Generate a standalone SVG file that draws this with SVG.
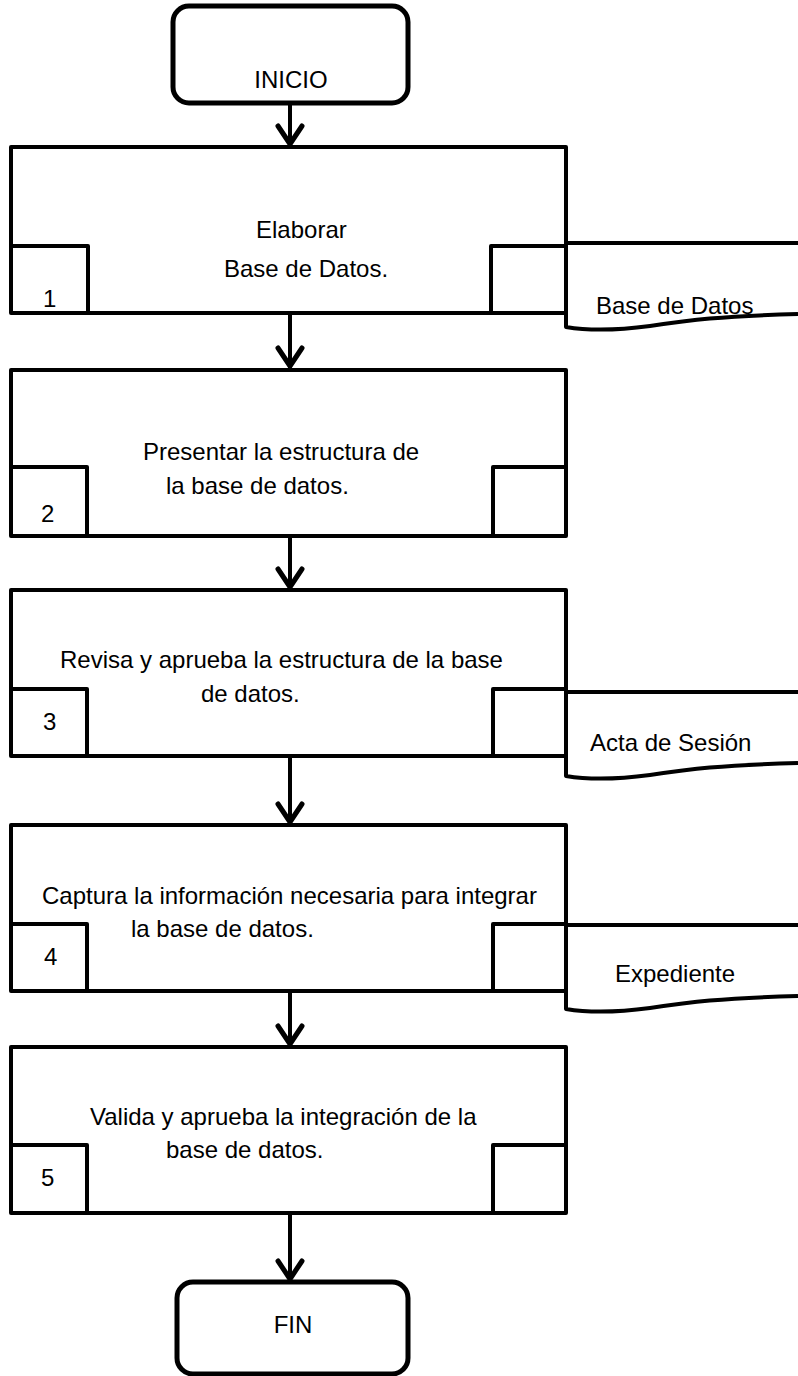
<svg xmlns="http://www.w3.org/2000/svg" width="798" height="1376" viewBox="0 0 798 1376">
<style>
.shape{fill:#fff;stroke:#000;stroke-width:4;stroke-linejoin:round}
.sub{fill:none;stroke:#000;stroke-width:4;stroke-linejoin:round}
.term{fill:#fff;stroke:#000;stroke-width:5}
.t{font-family:"Liberation Sans",Arial,sans-serif;font-size:24px;fill:#000}
.c{text-anchor:middle}
.line{fill:none;stroke:#000;stroke-width:4}
.head{fill:none;stroke:#000;stroke-width:5;stroke-linecap:round;stroke-linejoin:round}
</style>
<defs>
<path id="doc" d="M798,0 H566 V84 C590,88 620,87 650,83 C690,77 720,73 798,71" class="sub"/>
<path id="hd" d="M-12,-18 L0,0 L12,-18" class="head"/>
</defs>
<g id="connectors">
<line class="line" x1="290" y1="103" x2="290" y2="145"/><use href="#hd" x="290" y="144"/>
<line class="line" x1="290" y1="313" x2="290" y2="368"/><use href="#hd" x="290" y="366"/>
<line class="line" x1="290" y1="536" x2="290" y2="588"/><use href="#hd" x="290" y="587"/>
<line class="line" x1="290" y1="756" x2="290" y2="823"/><use href="#hd" x="290" y="822"/>
<line class="line" x1="290" y1="991" x2="290" y2="1045"/><use href="#hd" x="290" y="1044"/>
<line class="line" x1="290" y1="1213" x2="290" y2="1280"/><use href="#hd" x="290" y="1279"/>
</g>
<g id="inicio">
<rect class="term" x="173" y="6" width="235" height="97" rx="16"/>
<text class="t c" x="291" y="88">INICIO</text>
</g>
<g id="step1">
<rect class="shape" x="11" y="147" width="555" height="166"/>
<path class="sub" d="M11,246 H88 V313 M566,246 H491 V313"/>
<text class="t" x="256" y="238">Elaborar</text>
<text class="t" x="224" y="277">Base de Datos.</text>
<text class="t" x="43" y="307">1</text>
</g>
<g id="doc1">
<use href="#doc" y="243"/>
<text class="t" x="596" y="314">Base de Datos</text>
</g>
<g id="step2">
<rect class="shape" x="11" y="370" width="555" height="166"/>
<path class="sub" d="M11,467 H87 V536 M566,467 H493 V536"/>
<text class="t" x="143" y="460">Presentar la estructura de</text>
<text class="t" x="166" y="494">la base de datos.</text>
<text class="t" x="41" y="522">2</text>
</g>
<g id="step3">
<rect class="shape" x="11" y="590" width="555" height="166"/>
<path class="sub" d="M11,689 H87 V756 M566,689 H493 V756"/>
<text class="t" x="60" y="668">Revisa y aprueba la estructura de la base</text>
<text class="t" x="201" y="702">de datos.</text>
<text class="t" x="43" y="730">3</text>
</g>
<g id="doc3">
<use href="#doc" y="692"/>
<text class="t" x="590" y="751">Acta de Sesión</text>
</g>
<g id="step4">
<rect class="shape" x="11" y="825" width="555" height="166"/>
<path class="sub" d="M11,924 H87 V991 M566,924 H493 V991"/>
<text class="t" x="42" y="904">Captura la información necesaria para integrar</text>
<text class="t" x="131" y="937">la base de datos.</text>
<text class="t" x="44" y="965">4</text>
</g>
<g id="doc4">
<use href="#doc" y="925"/>
<text class="t" x="615" y="982">Expediente</text>
</g>
<g id="step5">
<rect class="shape" x="11" y="1047" width="555" height="166"/>
<path class="sub" d="M11,1145 H87 V1213 M566,1145 H493 V1213"/>
<text class="t" x="90" y="1125">Valida y aprueba la integración de la</text>
<text class="t" x="166" y="1158">base de datos.</text>
<text class="t" x="41" y="1186">5</text>
</g>
<g id="fin">
<rect class="term" x="177" y="1282" width="231" height="92" rx="16"/>
<text class="t c" x="293" y="1333">FIN</text>
</g>
</svg>
